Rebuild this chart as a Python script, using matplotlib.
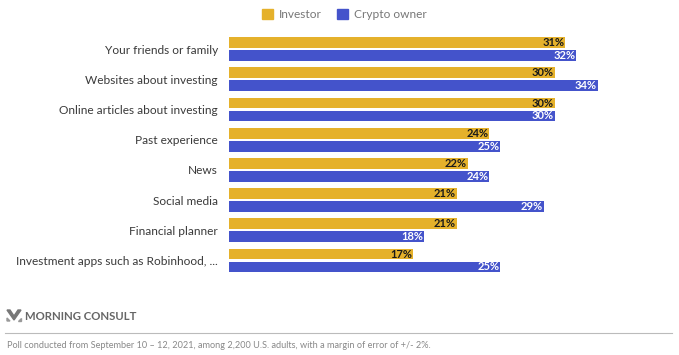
import numpy as np
import matplotlib.pyplot as plt
from matplotlib.patches import Rectangle, Polygon

plt.rcParams['font.family'] = ['Lato', 'DejaVu Sans']

# data
categories = ["Your friends or family", "Websites about investing",
              "Online articles about investing", "Past experience", "News",
              "Social media", "Financial planner",
              "Investment apps such as Robinhood, ..."]
investor = [31, 30, 30, 24, 22, 21, 21, 17]
crypto_owner = [32, 34, 30, 25, 24, 29, 18, 25]

gold = "#E5B12B"
blue = "#4453CB"

W, H = 679, 355
fig = plt.figure(figsize=(W / 100, H / 100), dpi=100)

# axes placed in pixel terms
ax = fig.add_axes([229 / W, 1 - 275 / H, (W - 229) / W, 241 / H])
y = np.arange(len(categories))
bh = 0.36
off = 0.215
ax.barh(y - off, investor, height=bh, color=gold)
ax.barh(y + off, crypto_owner, height=bh, color=blue)

for i in range(len(categories)):
    ax.text(investor[i] - 0.1, y[i] - off, f"{investor[i]}%", ha="right",
            va="center", fontsize=8, fontweight="bold", color="#1a1a1a")
    ax.text(crypto_owner[i] - 0.1, y[i] + off, f"{crypto_owner[i]}%", ha="right",
            va="center", fontsize=8, fontweight="bold", color="white")

ax.set_xlim(0, (W - 229) / 10.85)
ax.set_ylim(7.48, -0.5)
ax.set_yticks(y)
ax.set_yticklabels(categories, fontsize=8.6, color="#3a3a3a")
ax.tick_params(axis="y", length=0, pad=8)
ax.set_xticks([])
for s in ax.spines.values():
    s.set_visible(False)

# legend at the top
fig.patches.append(Rectangle((262 / W, 1 - 19 / H), 11 / W, 10 / H,
                             transform=fig.transFigure, color=gold))
fig.text(279 / W, 1 - 14 / H, "Investor", fontsize=8.6, color="#777777", va="center")
fig.patches.append(Rectangle((337 / W, 1 - 19 / H), 11 / W, 10 / H,
                             transform=fig.transFigure, color=blue))
fig.text(354 / W, 1 - 14 / H, "Crypto owner", fontsize=8.6, color="#777777", va="center")

# footer logo mark
def px(x, yy):
    return (x / W, 1 - yy / H)

fig.patches.append(Polygon([px(7, 310), px(10, 310), px(14, 316), px(18, 310),
                            px(21, 310), px(14, 320)], closed=True,
                           transform=fig.transFigure, color="#777777"))
fig.patches.append(Polygon([px(7, 318), px(10, 321), px(7, 321)], closed=True,
                           transform=fig.transFigure, color="#999999"))
fig.patches.append(Polygon([px(21, 318), px(21, 321), px(18, 321)], closed=True,
                           transform=fig.transFigure, color="#999999"))
fig.text(25 / W, 1 - 316 / H, "MORNING CONSULT", fontsize=8.2, color="#666666",
         va="center", fontweight="bold")
fig.add_artist(plt.Line2D([5 / W, 672 / W], [1 - 333 / H, 1 - 333 / H],
                          color="#bbbbbb", lw=0.8))
fig.text(7 / W, 1 - 345 / H,
         "Poll conducted from September 10 \u2013 12, 2021, among 2,200 U.S. adults, with a margin of error of +/- 2%.",
         fontsize=6.6, color="#888888", va="center")

fig.savefig("out.png", dpi=100)
